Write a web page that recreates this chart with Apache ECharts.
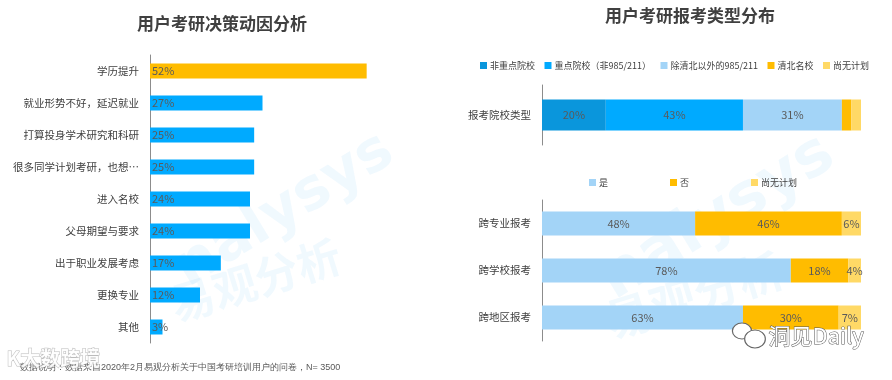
<!DOCTYPE html>
<html><head><meta charset="utf-8">
<script src="https://cdn.jsdelivr.net/npm/echarts@6/dist/echarts.min.js"></script>
<style>html,body{margin:0;padding:0;background:#fff}#c{width:892px;height:380px}</style>
</head><body><div id="c"></div>
<script>
const reasonCats = ['学历提升','就业形势不好，延迟就业','打算投身学术研究和科研','很多同学计划考研，也想…','进入名校','父母期望与要求','出于职业发展考虑','更换专业','其他'];
const reasonVals = [52,27,25,25,24,24,17,12,3];

const schoolCat = ['报考院校类型'];
const schoolNames = ['非重点院校','重点院校（非985/211）','除清北以外的985/211','清北名校','尚无计划'];
const schoolVals = [[20],[43],[31],[3],[3]];

const crossCats = ['跨专业报考','跨学校报考','跨地区报考'];
const crossNames = ['是','否','尚无计划'];
const crossVals = [[48,78,63],[46,18,30],[6,4,7]];

const footnote = '数据说明：数据来自2020年2月易观分析关于中国考研培训用户的问卷，N= 3500';

const FONT = '"Noto Sans CJK SC","Noto Sans",sans-serif';
const schoolColors = ['#0A96DC','#00AAFF','#A3D4F7','#FFBC00','#FFD966'];
const crossColors = ['#A3D4F7','#FFBC00','#FFD966'];
const labelColor = '#5a5a5a';
const catColor = '#404040';
const axisColor = '#8c8c8c';

const chart = echarts.init(document.getElementById('c'));

const series = [];
series.push({
  type:'bar', xAxisIndex:0, yAxisIndex:0, data:reasonVals, barWidth:15,
  itemStyle:{color:p=>p.dataIndex===0?'#FFBC00':'#00AAFF'},
  label:{show:true, position:'insideLeft', distance:2, formatter:'{c}%', color:labelColor, fontSize:11, fontFamily:FONT},
  silent:true
});
schoolNames.forEach((n,i)=>{
  series.push({
    type:'bar', name:n, stack:'s', xAxisIndex:1, yAxisIndex:1, data:schoolVals[i], barWidth:31,
    itemStyle:{color:schoolColors[i]},
    label:{show:true, position:'inside', formatter:p=>p.value>=4?p.value+'%':'', color:labelColor, fontSize:11, fontFamily:FONT}
  });
});
crossNames.forEach((n,i)=>{
  series.push({
    type:'bar', name:n, stack:'c', xAxisIndex:2, yAxisIndex:2, data:crossVals[i], barWidth:24,
    itemStyle:{color:crossColors[i]},
    label:{show:true, position:'inside', formatter:'{c}%', color:labelColor, fontSize:11, fontFamily:FONT}
  });
});

const catAxis = (idx, data) => ({
  type:'category', gridIndex:idx, data:data, inverse:true,
  axisLine:{show:true, lineStyle:{color:axisColor, width:1}},
  axisTick:{show:false},
  axisLabel:{color:catColor, fontSize:10.5, fontFamily:FONT, margin:11}
});
const valAxis = (idx, max) => ({type:'value', gridIndex:idx, min:0, max:max, show:false, splitLine:{show:false}});

chart.setOption({
  animation:false,
  textStyle:{fontFamily:FONT},
  title:[
    {text:'用户考研决策动因分析', left:217, top:10, textAlign:'center', textStyle:{fontSize:17, fontWeight:'bold', color:'#404040', fontFamily:FONT}},
    {text:'用户考研报考类型分布', left:685, top:2, textAlign:'center', textStyle:{fontSize:17, fontWeight:'bold', color:'#404040', fontFamily:FONT}}
  ],
  legend:[
    {data:schoolNames, left:480, top:61, width:420, padding:0, itemWidth:7, itemHeight:7, itemGap:9.5, icon:'rect',
     textStyle:{fontSize:9, color:'#404040', fontFamily:FONT, padding:[0,0,0,-2]}},
    {data:crossNames, left:589, top:178, padding:0, itemWidth:7, itemHeight:7, itemGap:62, icon:'rect',
     textStyle:{fontSize:9, color:'#404040', fontFamily:FONT, padding:[0,0,0,-2]}}
  ],
  grid:[
    {left:150, top:55, width:250, height:288},
    {left:542, top:85, width:319, height:60},
    {left:542, top:200, width:319, height:141}
  ],
  xAxis:[valAxis(0,60), valAxis(1,100), valAxis(2,100)],
  yAxis:[catAxis(0,reasonCats), catAxis(1,schoolCat), catAxis(2,crossCats)],
  series:series,
  graphic:[
    {type:'text', left:20, top:363, z:10, style:{text:footnote, fill:'#595959', fontSize:9, font:'9px '+FONT}},
    {type:'text', x:165, y:250, rotation:0.55, z:0, silent:true, style:{text:'nalysys', fill:'rgba(0,160,233,0.06)', font:'bold 58px "DejaVu Sans",sans-serif'}},
    {type:'text', x:165, y:285, rotation:0.3, z:0, silent:true, style:{text:'易观分析', fill:'rgba(0,160,233,0.06)', font:'bold 44px '+FONT}},
    {type:'text', x:590, y:260, rotation:0.55, z:0, silent:true, style:{text:'nalysys', fill:'rgba(0,160,233,0.06)', font:'bold 62px "DejaVu Sans",sans-serif'}},
    {type:'text', x:600, y:300, rotation:0.3, z:0, silent:true, style:{text:'易观分析', fill:'rgba(0,160,233,0.06)', font:'bold 46px '+FONT}},
    {type:'text', left:6, top:348, z:11, silent:true, style:{text:'K大数跨境', fill:'rgba(255,255,255,0.9)', stroke:'rgba(120,120,120,0.5)', lineWidth:1, font:'bold 20px '+FONT}},
    {type:'circle', x:742, y:331, z:11, silent:true, scaleX:1.2, shape:{r:8}, style:{fill:'#fff', stroke:'#666', lineWidth:1}},
    {type:'circle', x:755, y:339, z:12, silent:true, scaleX:1.15, shape:{r:9}, style:{fill:'#fff', stroke:'#666', lineWidth:1}},
    {type:'text', left:768, top:324, z:12, silent:true, style:{text:'洞见Daily', fill:'#fff', stroke:'#555', lineWidth:1, font:'22px '+FONT}}
  ]
});
</script>
</body></html>
